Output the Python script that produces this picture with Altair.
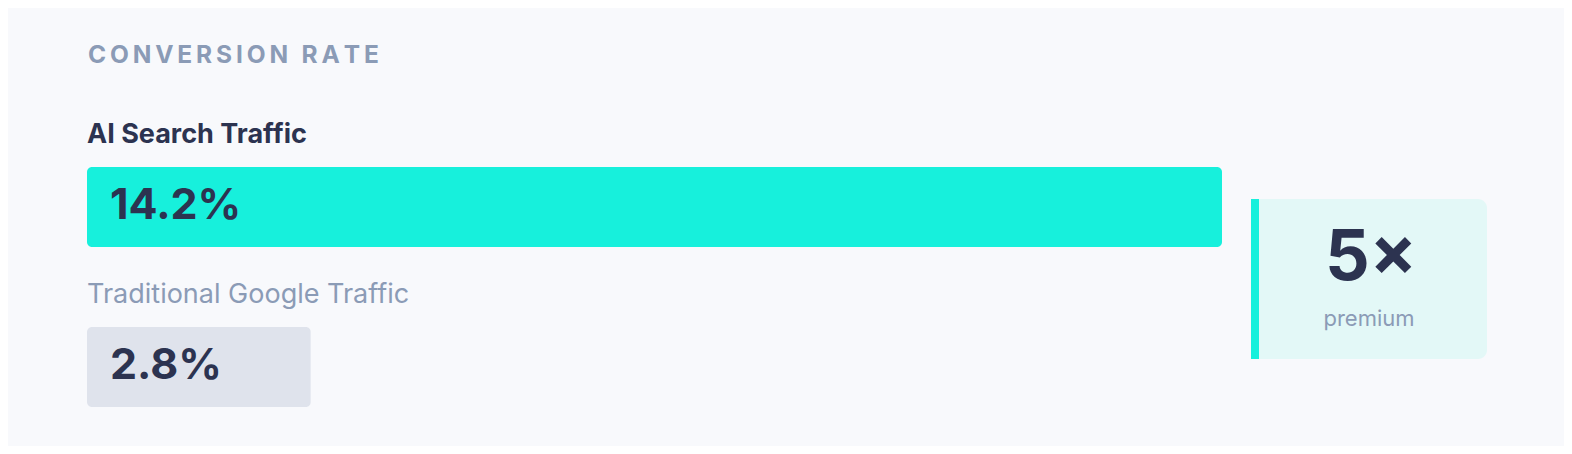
import altair as alt
import pandas as pd

# ---- data ----
categories = ["AI Search Traffic", "Traditional Google Traffic"]
values = [14.2, 2.8]
value_labels = ["14.2%", "2.8%"]
title_text = "CONVERSION RATE"
multiplier_text = ["5×"]
multiplier_caption = ["premium"]

# ---- colors ----
BG = "#f8f9fc"
TEAL = "#17f0dc"
GRAY_BAR = "#dfe3ec"
DARK = "#2c3350"
MUTED = "#8b9bb6"
BOX_BG = "#e3f8f7"

FONT = "Inter"

df = pd.DataFrame({
    "cat": categories,
    "value": values,
    "label": value_labels,
    "color": [TEAL, GRAY_BAR],
})

x_scale = alt.Scale(domain=[0, 14.2], range=[0, 1135], zero=True, nice=False)
y_scale = alt.Scale(domain=categories, range=[159, 399], paddingInner=0.5, paddingOuter=0)

base = alt.Chart(df)

bars = base.mark_bar(cornerRadius=5).encode(
    x=alt.X("value:Q", scale=x_scale, axis=None),
    y=alt.Y("cat:N", scale=y_scale, axis=None),
    color=alt.Color("color:N", scale=None, legend=None),
)

value_text = base.mark_text(
    align="left", baseline="alphabetic", dx=23, dy=12,
    font=FONT, fontSize=43, fontWeight="bold", color=DARK,
).encode(
    x=alt.datum(0, scale=x_scale),
    y=alt.Y("cat:N", scale=y_scale, axis=None),
    text="label:N",
)

cat_ai = alt.Chart(df.iloc[[0]]).mark_text(
    align="left", baseline="alphabetic", dy=-64,
    font=FONT, fontSize=27, fontWeight="bold", color=DARK,
).encode(
    x=alt.datum(0, scale=x_scale),
    y=alt.Y("cat:N", scale=y_scale, axis=None),
    text="cat:N",
)

cat_trad = alt.Chart(df.iloc[[1]]).mark_text(
    align="left", baseline="alphabetic", dy=-64,
    font=FONT, fontSize=27, fontWeight="normal", color=MUTED,
).encode(
    x=alt.datum(0, scale=x_scale),
    y=alt.Y("cat:N", scale=y_scale, axis=None),
    text="cat:N",
)

spaced_title = "\u2009".join(list(title_text))
title = alt.Chart(pd.DataFrame({"t": [spaced_title]})).mark_text(
    align="left", baseline="alphabetic",
    font=FONT, fontSize=24.5, fontWeight="bold", color=MUTED,
).encode(
    x=alt.value(1), y=alt.value(55), text="t:N",
)

box_df = pd.DataFrame({"m": multiplier_text, "c": multiplier_caption})
box = alt.Chart(box_df).mark_rect(cornerRadius=9, color=BOX_BG).encode(
    x=alt.value(1164), x2=alt.value(1400), y=alt.value(191), y2=alt.value(351),
)
box_border = alt.Chart(box_df).mark_rect(color=TEAL).encode(
    x=alt.value(1164), x2=alt.value(1172), y=alt.value(191), y2=alt.value(351),
)
mult = alt.Chart(box_df).mark_text(
    align="center", baseline="alphabetic",
    font=FONT, fontSize=70, fontWeight="bold", color=DARK,
).encode(x=alt.value(1284), y=alt.value(272), text="m:N")
caption = alt.Chart(box_df).mark_text(
    align="center", baseline="alphabetic",
    font=FONT, fontSize=22, color=MUTED,
).encode(x=alt.value(1282), y=alt.value(318), text="c:N")

chart = alt.layer(
    bars, value_text, cat_ai, cat_trad, title, box, box_border, mult, caption
).properties(
    width=1135, height=430,
    padding={"left": 79, "top": 0, "right": 342, "bottom": 8},
    autosize=alt.AutoSizeParams(type="none"),
    background=BG,
).configure_view(stroke=None)

chart.save("out.html", embed_options={"renderer": "svg", "actions": False})
